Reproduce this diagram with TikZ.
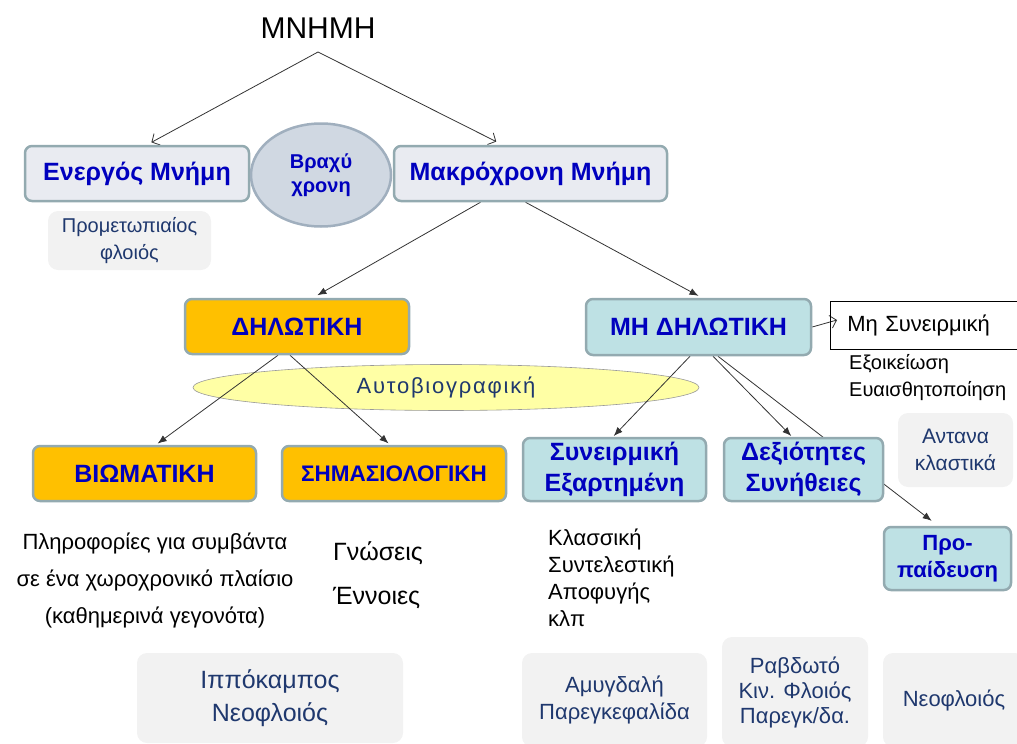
\documentclass[tikz,border=0pt]{standalone}
\usepackage{fontspec}
\setmainfont{Liberation Sans}
\usepackage{tikz}
\usetikzlibrary{arrows.meta,shapes.geometric,positioning,backgrounds}
\definecolor{boxblue}{RGB}{0,0,190}
\definecolor{areablue}{RGB}{31,56,110}
\definecolor{rimc}{RGB}{147,170,176}
\definecolor{declc}{RGB}{255,192,0}
\definecolor{ndeclc}{RGB}{190,225,228}
\definecolor{topc}{RGB}{233,235,241}
\definecolor{shortc}{RGB}{208,216,226}
\definecolor{shortrim}{RGB}{160,175,190}
\definecolor{autoc}{RGB}{255,255,165}
\definecolor{areac}{RGB}{242,242,242}
\newcommand{\fsz}[2]{\fontsize{#1}{#2}\selectfont}

\begin{document}
\begin{tikzpicture}[
  x=1pt,y=-1pt,
  font=\fsz{22}{27},
  mbox/.style={draw=rimc,line width=2.5pt,rounded corners=7pt,
               text=boxblue,font=\bfseries\fsz{25}{31},
               align=center,inner sep=0pt},
  topbox/.style={mbox,fill=topc},
  decl/.style={mbox,fill=declc},
  ndecl/.style={mbox,fill=ndeclc},
  area/.style={fill=areac,rounded corners=10pt,text=areablue,
               align=center,inner sep=0pt},
  note/.style={align=left,inner sep=0pt},
  arr/.style={-{Latex[length=9pt,width=7pt]},black!80,line width=0.8pt},
  oarr/.style={-{Straight Barb[length=6pt,width=13pt]},black!80,
               line width=0.8pt},
]
  \useasboundingbox (0,0) rectangle (1017,744);
  \clip (0,0) rectangle (1017,744);

  \node[font=\fsz{30}{36}] (title) at (318,28) {ΜΝΗΜΗ};
  \coordinate (apex) at (318,52);

  % top row
  \node[topbox,minimum width=224,minimum height=55] (energos)
    at (137,173.5) {Ενεργός Μνήμη};
  \node[ellipse,draw=shortrim,fill=shortc,line width=2.5pt,
        minimum width=140,minimum height=103,inner sep=0pt,
        text=boxblue,font=\bfseries\fsz{20}{24},align=center] (brachy)
    at (321,175) {Βραχύ\\χρονη};
  \node[topbox,minimum width=273,minimum height=55] (makro)
    at (530.5,173.5) {Μακρόχρονη Μνήμη};
  \node[area,minimum width=163,minimum height=59,font=\fsz{20}{27}]
    (prom) at (129.5,240.5) {Προμετωπιαίος\\φλοιός};

  % declarative / non declarative
  \node[decl,minimum width=224,minimum height=55] (dhl)
    at (297,326.5) {ΔΗΛΩΤΙΚΗ};
  \node[ndecl,minimum width=225,minimum height=56] (mhdhl)
    at (698.5,327) {ΜΗ ΔΗΛΩΤΙΚΗ};
  \node[draw=black,line width=0.8pt,anchor=west,minimum height=48,
        inner xsep=17pt,text width=170pt,align=left] (msyn)
    at (830,325) {Μη Συνειρμική};
  \node[note,anchor=north west,font=\fsz{20}{27}] (exo) at (849,354)
    {Εξοικείωση\\Ευαισθητοποίηση};
  \node[area,minimum width=115,minimum height=74,font=\fsz{21}{27}]
    (antana) at (955.5,450) {Αντανα\\κλαστικά};

  % third row
  \node[decl,minimum width=223,minimum height=55] (biom)
    at (144.5,473.5) {ΒΙΩΜΑΤΙΚΗ};
  \node[decl,minimum width=224,minimum height=55,
        font=\bfseries\fsz{22.5}{26}] (shm)
    at (394,473.5) {ΣΗΜΑΣΙΟΛΟΓΙΚΗ};
  \node[ndecl,minimum width=183,minimum height=63] (syn)
    at (614.5,469.5) {Συνειρμική\\Εξαρτημένη};
  \node[ndecl,minimum width=159,minimum height=63] (dex)
    at (803.5,469.5) {Δεξιότητες\\Συνήθειες};
  \node[ndecl,minimum width=127,minimum height=63,
        font=\bfseries\fsz{22}{27}] (propaid)
    at (947.5,558.5) {Προ-\\παίδευση};

  % notes
  \node[align=center,inner sep=0pt,font=\fsz{22}{37}] (info) at (155,580)
    {Πληροφορίες για συμβάντα\\σε ένα χωροχρονικό πλαίσιο\\(καθημερινά γεγονότα)};
  \node[note,font=\fsz{25}{44}] (gnos) at (378,575) {Γνώσεις\\Έννοιες};
  \node[note,anchor=west,font=\fsz{22}{27}] (klas) at (548,578)
    {Κλασσική\\Συντελεστική\\Αποφυγής\\κλπ};

  % brain areas
  \node[area,minimum width=266,minimum height=90,font=\fsz{25}{33}]
    (ippo) at (270,698) {Ιππόκαμπος\\Νεοφλοιός};
  \node[area,minimum width=185,minimum height=94] (amyg)
    at (614.5,700) {Αμυγδαλή\\Παρεγκεφαλίδα};
  \node[area,minimum width=146,minimum height=110,font=\fsz{22}{25}]
    (rabd) at (795,692) {Ραβδωτό\\Κιν. Φλοιός\\Παρεγκ/δα.};
  \node[area,minimum width=142,minimum height=94] (neof)
    at (954,700) {Νεοφλοιός};

  \begin{scope}[on background layer]
    \node[ellipse,draw=black!40,fill=autoc,line width=0.6pt,
          minimum width=506,minimum height=46,inner sep=0pt,
          text=areablue,font=\fsz{22}{26}\addfontfeature{LetterSpace=8}]
      (auto) at (446,387.5) {Αυτοβιογραφική};

    \draw[oarr,shorten >=5pt] (apex) -- ([xshift=10pt]energos.north);
    \draw[oarr,shorten >=7pt] (apex) -- ([xshift=-28pt]makro.north);
    \draw[arr,shorten >=5pt] ([xshift=-50pt]makro.south)
      -- ([xshift=16pt]dhl.north);
    \draw[arr,shorten >=4pt] ([xshift=-5pt]makro.south)
      -- ([xshift=3.5pt]mhdhl.north);
    \draw[oarr] (mhdhl.east) -- ([xshift=7pt,yshift=5pt]msyn.west);
    \draw[arr,shorten >=2pt] ([xshift=-19pt]dhl.south)
      -- ([xshift=11.5pt]biom.north);
    \draw[arr,shorten >=2pt] ([xshift=-7pt]dhl.south)
      -- ([xshift=-4pt]shm.north);
    \draw[arr,shorten >=1pt] ([xshift=-8.5pt]mhdhl.south)
      -- ([xshift=-1.5pt]syn.north);
    \draw[arr,shorten >=1pt] ([xshift=14.5pt]mhdhl.south)
      -- ([xshift=-11.5pt]dex.north);
    \draw[arr,shorten >=8pt] ([xshift=19.5pt]mhdhl.south)
      -- ([xshift=-9.5pt]propaid.north);
  \end{scope}
\end{tikzpicture}
\end{document}
